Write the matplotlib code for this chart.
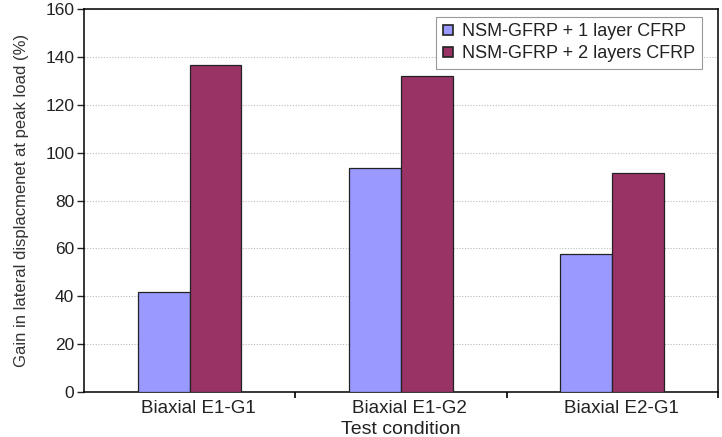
import numpy as np
import matplotlib.pyplot as plt
from matplotlib.lines import Line2D
from matplotlib.ticker import FixedLocator
from matplotlib.transforms import ScaledTranslation

plt.rcParams['font.family'] = ['Liberation Sans', 'DejaVu Sans']

categories = ['Biaxial E1-G1', 'Biaxial E1-G2', 'Biaxial E2-G1']
one_layer = [42, 93.5, 57.5]
two_layers = [136.5, 132, 91.5]
series_names = ['NSM-GFRP + 1 layer CFRP', 'NSM-GFRP + 2 layers CFRP']
colors = ['#9999FF', '#993366']

fig = plt.figure(figsize=(7.22, 4.37), dpi=100)
ax = fig.add_axes([0.1163, 0.103, 0.878, 0.876])

x = np.arange(len(categories))
w = 0.245
ax.bar(x - w / 2, one_layer, w, color=colors[0], edgecolor='#222222', linewidth=0.9,
       zorder=3)
ax.bar(x + w / 2, two_layers, w, color=colors[1], edgecolor='#222222', linewidth=0.9,
       zorder=3)

ax.set_xlim(-0.5, 2.5)
ax.set_ylim(0, 160)
ax.set_yticks(np.arange(0, 161, 20))
ax.set_xticks(x)
ax.set_xticklabels(categories)
ax.xaxis.set_minor_locator(FixedLocator([0.5, 1.5, 2.5]))
ax.tick_params(axis='x', which='major', length=0, labelsize=13.5, pad=6, colors='#222222')
ax.tick_params(axis='x', which='minor', length=4, width=1.2, direction='out')
ax.tick_params(axis='y', length=5, width=1, labelsize=12.5, pad=2, colors='#222222')

# category labels sit a little right of the bar groups in the original
shift = ScaledTranslation(9 / 100, 0, fig.dpi_scale_trans)
for lab in ax.get_xticklabels():
    lab.set_transform(lab.get_transform() + shift)

ax.yaxis.grid(True, linestyle=(0, (1, 1.5)), color='#bbbbbb', linewidth=0.8, zorder=0)
for s in ax.spines.values():
    s.set_linewidth(1.1)

ax.set_xlabel('Test condition', fontsize=14, labelpad=3, color='#222222')
ax.set_ylabel('Gain in lateral displacmenet at peak load (%)', fontsize=12,
              labelpad=12, color='#333333')

# small square legend keys like the original
handles = [Line2D([], [], marker='s', linestyle='', markersize=6.5,
                  markerfacecolor=c, markeredgecolor='#222222', markeredgewidth=1.2)
           for c in colors]
leg = ax.legend(handles, series_names, loc='upper right', bbox_to_anchor=(0.98, 0.99),
                fontsize=13, handlelength=0.6, handletextpad=0.5,
                fancybox=False, edgecolor='#999999', framealpha=1, borderpad=0.35,
                labelspacing=0.3, borderaxespad=0.2)
leg.get_frame().set_linewidth(0.8)
for t in leg.get_texts():
    t.set_color('#222222')

fig.savefig('out.png', dpi=100)
